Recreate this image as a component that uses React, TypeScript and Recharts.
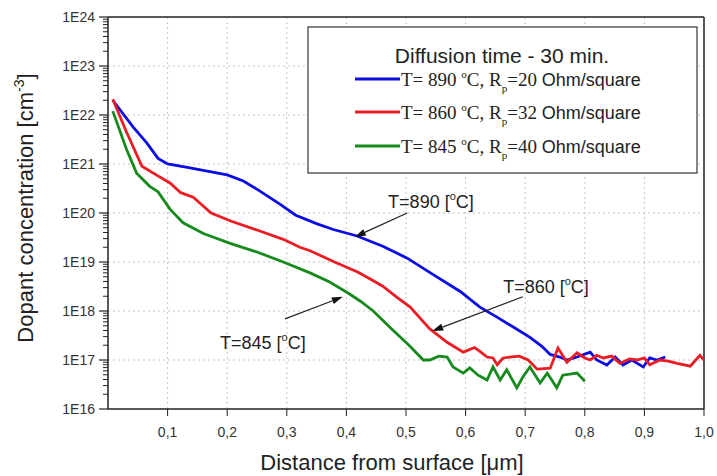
import React from 'react';
import { LineChart, Line, XAxis, YAxis, CartesianGrid, ReferenceLine, ReferenceDot } from 'recharts';

// ---- data (depth in µm, concentration in cm^-3) ----
const blue890: [number, number][] = [
  [0.008, 2.0e22], [0.042, 5.7e21], [0.065, 2.7e21], [0.084, 1.3e21], [0.100, 1.0e21],
  [0.133, 8.5e20], [0.171, 7.0e20], [0.200, 6.0e20], [0.227, 4.5e20], [0.255, 2.8e20],
  [0.289, 1.5e20], [0.315, 9.0e19], [0.351, 6.0e19], [0.378, 4.6e19], [0.418, 3.4e19],
  [0.461, 2.1e19], [0.502, 1.2e19], [0.545, 5.6e18], [0.591, 2.5e18], [0.624, 1.2e18],
  [0.652, 7.6e17], [0.680, 4.7e17], [0.708, 2.9e17], [0.728, 1.9e17], [0.742, 1.3e17],
  [0.758, 1.15e17], [0.770, 1.0e17], [0.787, 1.15e17], [0.809, 1.45e17], [0.820, 1.0e17],
  [0.837, 7.9e16], [0.851, 1.15e17], [0.864, 7.9e16], [0.879, 1.0e17], [0.898, 7.2e16],
  [0.909, 1.1e17], [0.921, 1.0e17], [0.935, 1.15e17],
];

const red860: [number, number][] = [
  [0.008, 2.1e22], [0.031, 4.5e21], [0.057, 9.0e20], [0.083, 5.8e20], [0.104, 4.1e20],
  [0.122, 2.6e20], [0.143, 2.1e20], [0.173, 1.0e20], [0.207, 6.8e19], [0.250, 4.5e19],
  [0.294, 2.9e19], [0.322, 2.0e19], [0.339, 1.7e19], [0.380, 1.0e19], [0.418, 6.3e18],
  [0.440, 4.5e18], [0.461, 3.2e18], [0.485, 1.9e18], [0.507, 1.2e18], [0.540, 4.3e17],
  [0.569, 2.3e17], [0.596, 1.45e17], [0.615, 1.8e17], [0.624, 1.5e17], [0.636, 1.15e17],
  [0.646, 1.1e17], [0.653, 8.0e16], [0.663, 1.1e17], [0.674, 1.15e17], [0.690, 1.2e17],
  [0.705, 1.0e17], [0.720, 6.5e16], [0.742, 6.8e16], [0.755, 1.75e17], [0.770, 9.0e16],
  [0.787, 1.4e17], [0.800, 1.1e17], [0.809, 1.0e17], [0.820, 1.25e17], [0.831, 1.1e17],
  [0.845, 1.2e17], [0.859, 8.5e16], [0.875, 1.05e17], [0.888, 1.0e17], [0.900, 1.1e17],
  [0.909, 8.0e16], [0.926, 1.0e17], [0.940, 9.5e16], [0.955, 8.5e16], [0.977, 7.5e16],
  [0.993, 1.25e17], [1.0, 1.0e17],
];

const green845: [number, number][] = [
  [0.008, 1.2e22], [0.031, 2.0e21], [0.048, 6.5e20], [0.070, 3.5e20], [0.084, 2.7e20],
  [0.104, 1.2e20], [0.126, 6.3e19], [0.160, 3.8e19], [0.205, 2.4e19], [0.250, 1.6e19],
  [0.294, 1.0e19], [0.339, 6.0e18], [0.372, 3.9e18], [0.406, 2.2e18], [0.423, 1.6e18],
  [0.445, 1.0e18], [0.476, 4.3e17], [0.505, 2.0e17], [0.529, 1.0e17], [0.540, 1.0e17],
  [0.555, 1.2e17], [0.569, 1.15e17], [0.579, 7.2e16], [0.596, 5.4e16], [0.607, 6.9e16],
  [0.621, 4.9e16], [0.636, 3.9e16], [0.646, 7.2e16], [0.658, 3.9e16], [0.669, 6.3e16],
  [0.686, 2.7e16], [0.696, 4.5e16], [0.708, 7.2e16], [0.725, 3.4e16], [0.737, 5.4e16],
  [0.753, 2.7e16], [0.763, 4.9e16], [0.787, 5.4e16], [0.800, 3.7e16],
];

const seriesColors = ['#0c0ce6', '#ec1c24', '#178a1d'];
const seriesTemps = ['890', '860', '845'];
const seriesRp = ['20', '32', '40'];
const legendTitle = 'Diffusion time - 30 min.';

const xTicks = [0.1, 0.2, 0.3, 0.4, 0.5, 0.6, 0.7, 0.8, 0.9, 1.0];
const gridX = [0.1, 0.2, 0.3, 0.4, 0.5, 0.6, 0.7, 0.8, 0.9];
const decades = [16, 17, 18, 19, 20, 21, 22, 23, 24];
const minorMultipliers = [2, 3, 4, 5, 6, 7, 8, 9];
const majorTicks = decades.map((d) => Number('1e' + d));

const annotations = [
  { temp: '890', text: { x: 0.470, y: 1.67e20 }, from: { x: 0.502, y: 1.0e20 }, to: { x: 0.414, y: 3.25e19 } },
  { temp: '860', text: { x: 0.663, y: 3.1e18 }, from: { x: 0.696, y: 1.95e18 }, to: { x: 0.544, y: 3.9e17 } },
  { temp: '845', text: { x: 0.188, y: 2.2e17 }, from: { x: 0.297, y: 6.9e17 }, to: { x: 0.394, y: 1.95e18 } },
];

const toPoints = (arr: [number, number][]) => arr.map(([x, y]) => ({ x, y }));
const seriesData = [blue890, red860, green845].map(toPoints);

const SANS = 'Liberation Sans, Arial, sans-serif';
const SERIF = 'Liberation Serif, Times New Roman, serif';

// Decade tick with its label, plus the log-minor ticks (2..9) of the decade below it.
const YTick = (props: any) => {
  const { x, y, payload, index, visibleTicksCount } = props;
  const v = payload.value as number;
  const e = Math.round(Math.log10(v));
  const axisH = typeof props.height === 'number' && props.height > 0 ? props.height : 392;
  const n = visibleTicksCount || decades.length;
  const span = axisH / (n - 1);
  const minors = index === 0 ? [] : minorMultipliers.map((m) => y + span * (1 - Math.log10(m)));
  return (
    <g>
      {minors.map((my, k) => (
        <line key={k} x1={x} x2={x - 5} y1={my} y2={my} stroke="#222" strokeWidth={1} />
      ))}
      <line x1={x} x2={x - 9} y1={y} y2={y} stroke="#222" strokeWidth={1.2} />
      <text x={x - 13} y={y} dy="0.35em" textAnchor="end" fontFamily={SANS} fontSize={14} fill="#333">
        {'1E' + e}
      </text>
    </g>
  );
};

const Arrow = (props: any) => {
  const { x1, y1, x2, y2 } = props;
  const ang = Math.atan2(y2 - y1, x2 - x1);
  const len = 11;
  const half = 3.5;
  const bx = x2 - len * Math.cos(ang);
  const by = y2 - len * Math.sin(ang);
  const px = -Math.sin(ang) * half;
  const py = Math.cos(ang) * half;
  return (
    <g>
      <line x1={x1} y1={y1} x2={bx} y2={by} stroke="#222" strokeWidth={1.2} />
      <polygon points={`${x2},${y2} ${bx + px},${by + py} ${bx - px},${by - py}`} fill="#111" />
    </g>
  );
};

const makeLabel = (temp: string) => (props: any) => {
  const { cx, cy } = props;
  return (
    <text x={cx} y={cy + 6} fontFamily={SANS} fontSize={18} fill="#222">
      {'T=' + temp + ' ['}
      <tspan dy={-8} fontSize={11}>o</tspan>
      <tspan dy={8}>{'C]'}</tspan>
    </text>
  );
};

const XTitle = (props: any) => {
  const vb = props.viewBox || { x: 108, y: 409, width: 596, height: 67 };
  return (
    <text x={vb.x + vb.width / 2 - 14} y={vb.y + 61} textAnchor="middle" fontFamily={SANS} fontSize={22} fill="#222">
      {'Distance from surface [μm]'}
    </text>
  );
};

const YTitle = (props: any) => {
  const vb = props.viewBox || { x: 0, y: 17, width: 108, height: 392 };
  const cy = vb.y + vb.height / 2 - 5;
  return (
    <text transform={`translate(33, ${cy}) rotate(-90)`} textAnchor="middle" fontFamily={SANS} fontSize={22} fill="#222">
      {'Dopant concentration [cm'}
      <tspan dy={-9} fontSize={14}>-3</tspan>
      <tspan dy={9}>]</tspan>
    </text>
  );
};

const LegendBox = () => {
  const itemY = [79, 112, 146];
  return (
    <svg width={717} height={476} style={{ position: 'absolute', left: 0, top: 0, pointerEvents: 'none' }}>
      <rect x={308} y={27} width={389} height={146} fill="#fff" stroke="#444" strokeWidth={1.3} />
      <text x={502} y={63} textAnchor="middle" fontFamily={SANS} fontSize={21} fill="#222">
        {legendTitle}
      </text>
      {itemY.map((y, i) => (
        <g key={i}>
          <line x1={355} x2={400} y1={y} y2={y} stroke={seriesColors[i]} strokeWidth={3} />
          <text x={401} y={y + 6.5} fontFamily={SERIF} fontSize={19} fill="#222">
            {'T= ' + seriesTemps[i] + ' '}
            <tspan dy={-8} fontSize={11}>o</tspan>
            <tspan dy={8}>{'C, R'}</tspan>
            <tspan dy={6} fontSize={11}>p</tspan>
            <tspan dy={-6}>{'=' + seriesRp[i] + ' '}</tspan>
            <tspan fontFamily={SANS} fontSize={18}>Ohm/square</tspan>
          </text>
        </g>
      ))}
    </svg>
  );
};

export default function App() {
  return (
    <div style={{ position: 'absolute', left: 0, top: 0, width: 717, height: 476, background: '#fff' }}>
      <LineChart width={717} height={476} margin={{ top: 17, right: 13, bottom: 0, left: 0 }}>
        <CartesianGrid
          horizontalValues={majorTicks.slice(1, -1)}
          verticalValues={gridX}
          stroke="#c4c4c4"
          strokeDasharray="2 3"
        />
        <XAxis
          type="number"
          dataKey="x"
          domain={[0, 1]}
          ticks={xTicks}
          allowDataOverflow
          height={67}
          tickSize={7}
          tickMargin={11}
          tickFormatter={(v: number) => v.toFixed(1).replace('.', ',')}
          tick={{ fontFamily: SANS, fontSize: 14, fill: '#333' }}
          tickLine={{ stroke: '#222' }}
          axisLine={{ stroke: '#222', strokeWidth: 1.5 }}
          label={XTitle}
        />
        <YAxis
          type="number"
          scale="log"
          domain={[1e16, 1e24]}
          allowDataOverflow
          ticks={majorTicks}
          interval={0}
          width={108}
          tickSize={0}
          tickMargin={0}
          tickLine={false}
          axisLine={{ stroke: '#222', strokeWidth: 1.5 }}
          tick={(p: any) => <YTick {...p} />}
          label={YTitle}
        />
        <ReferenceLine y={1e24} stroke="#222" strokeWidth={1.5} />
        <ReferenceLine x={1} stroke="#222" strokeWidth={1.5} />
        {seriesData.map((d, i) => (
          <Line
            key={i}
            data={d}
            dataKey="y"
            type="linear"
            stroke={seriesColors[i]}
            strokeWidth={2.8}
            dot={false}
            isAnimationActive={false}
          />
        ))}
        {annotations.map((a, i) => (
          <ReferenceLine key={'a' + i} segment={[a.from, a.to]} shape={Arrow} />
        ))}
        {annotations.map((a, i) => (
          <ReferenceDot key={'t' + i} x={a.text.x} y={a.text.y} r={1} shape={makeLabel(a.temp)} />
        ))}
      </LineChart>
      <LegendBox />
    </div>
  );
}
